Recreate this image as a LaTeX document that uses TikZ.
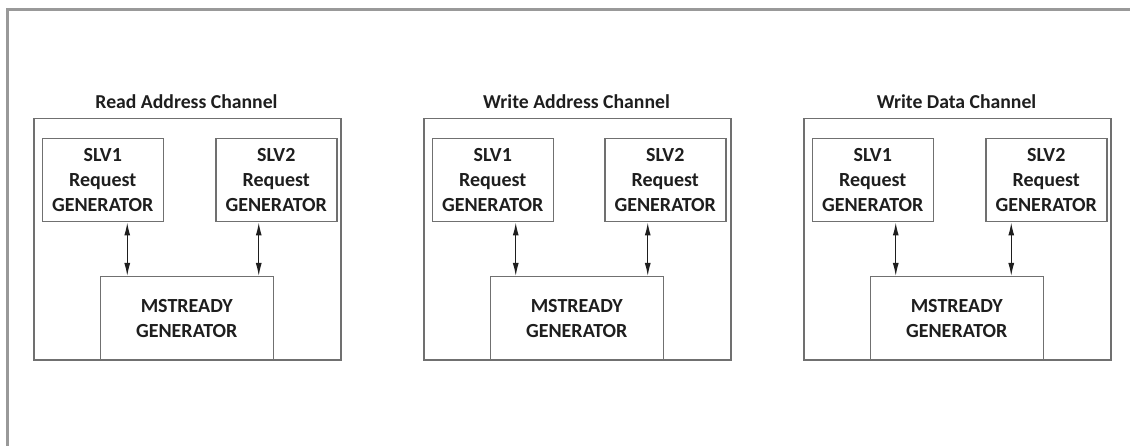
\documentclass[tikz,border=0pt]{standalone}
\usepackage{fontspec}
\setmainfont{Carlito}
\usetikzlibrary{arrows.meta}

\definecolor{frameg}{HTML}{999999}
\definecolor{boxg}{HTML}{707070}
\definecolor{ink}{HTML}{1E1E1E}

\tikzset{
  chan/.style={draw=boxg, line width=1.5pt, anchor=north west, inner sep=0pt},
  blk/.style={draw=boxg, line width=1.5pt, anchor=north west, inner sep=0pt,
              fill=white, align=center, text=ink,
              font=\bfseries\fontsize{20}{24.8}\selectfont},
  ttl/.style={anchor=base, inner sep=0pt, text=ink,
              font=\bfseries\fontsize{19.7}{24.5}\selectfont},
  link/.style={draw=ink, line width=1.2pt,
               {Latex[length=13pt,width=6pt]}-{Latex[length=13pt,width=6pt]}},
  frame/.style={draw=frameg, line width=2.2pt},
}

\begin{document}
\begin{tikzpicture}[x=1pt,y=-1pt]
  \useasboundingbox (0,0) rectangle (1130,446);

  % page frame (top and left edges)
  \draw[frame] (7.5,446) -- (7.5,9.5) -- (1130,9.5);

  % one panel per AXI channel: name / left edge / title / SLV2 offset / arrow shifts
  \foreach \p/\x/\t/\b/\da/\db in {
      r/33/Read Address Channel/182/24.5/-17.5,
      w/423/Write Address Channel/181/23/-17.5,
      d/803/Write Data Channel/182/23/-35}{
    \node[chan, minimum width=307pt, minimum height=241pt] (\p c) at (\x,118) {};
    \node[ttl] (\p t) at (\x+153.5,108.5) {\t};
    \node[blk, minimum width=121pt, minimum height=83pt] (\p s1) at (\x+8.5,138)
      {SLV1\\Request\\GENERATOR};
    \node[blk, minimum width=121pt, minimum height=83pt] (\p s2) at (\x+\b,138)
      {SLV2\\Request\\GENERATOR};
    \node[blk, minimum width=173pt, minimum height=83pt] (\p m) at (\x+66.5,276)
      {MSTREADY\\GENERATOR};
    \draw[link] ([xshift=\da pt]\p s1.south) -- ([xshift=\da pt]\p s1.south |- \p m.north);
    \draw[link] ([xshift=\db pt]\p s2.south) -- ([xshift=\db pt]\p s2.south |- \p m.north);
  }
\end{tikzpicture}
\end{document}
